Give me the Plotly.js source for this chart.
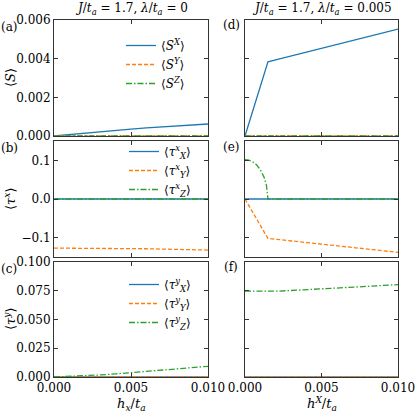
<!DOCTYPE html>
<html>
<head>
<meta charset="utf-8">
<script src="https://cdn.plot.ly/plotly-3.0.1.min.js"></script>
<style>html,body{margin:0;padding:0;background:#fff;}#chart{width:415px;height:415px;}</style>
</head>
<body>
<div id="chart"></div>
<script>
// ---- data ----
var h = [0, 0.0005, 0.001, 0.0015, 0.002, 0.003, 0.004, 0.005, 0.006, 0.007, 0.008, 0.009, 0.01];
var zeros = [0, 0, 0, 0, 0, 0, 0, 0, 0, 0, 0, 0, 0];

// left column (lambda = 0)
var a_SX = [0, 0.00004, 0.00008, 0.00012, 0.00016, 0.00023, 0.0003, 0.00036, 0.00042, 0.00047, 0.00052, 0.00057, 0.00062];
var a_SY = zeros;
var a_SZ = zeros;
var b_tXx = zeros;
var b_tYx = [-0.127, -0.127, -0.127, -0.127, -0.1272, -0.1275, -0.1278, -0.1282, -0.1287, -0.1295, -0.1302, -0.131, -0.132];
var b_tZx = zeros;
var c_tXy = zeros;
var c_tYy = zeros;
var c_tZy = [0, 0.0002, 0.0005, 0.0008, 0.0011, 0.0018, 0.0027, 0.0037, 0.0047, 0.0058, 0.0069, 0.0081, 0.0093];

// right column (lambda = 0.005)
var d_SX = [0, 0.00128, 0.00256, 0.00384, 0.00394, 0.00414, 0.00434, 0.00454, 0.00474, 0.00494, 0.00514, 0.00534, 0.00553];
var d_SY = zeros;
var d_SZ = zeros;
var e_tXx = zeros;
var e_tYx = [0, -0.034, -0.068, -0.102, -0.104, -0.108, -0.1125, -0.117, -0.121, -0.125, -0.129, -0.1335, -0.138];
var hZ = [0, 0.00025, 0.0005, 0.00075, 0.001, 0.00125, 0.0014, 0.00148, 0.0015, 0.002, 0.003, 0.004, 0.005, 0.006, 0.007, 0.008, 0.009, 0.01];
var e_tZx = [0.102, 0.1005, 0.096, 0.0885, 0.076, 0.056, 0.036, 0.012, 0, 0, 0, 0, 0, 0, 0, 0, 0, 0];
var f_tXy = zeros;
var f_tYy = zeros;
var f_tZy = [0.0748, 0.0747, 0.0746, 0.0745, 0.0746, 0.0752, 0.0758, 0.0765, 0.0772, 0.0781, 0.0788, 0.0796, 0.0803];

var xTicks = [0, 0.005, 0.01];
var xTickText = ['0.000', '0.005', '0.010'];

// ---- styling ----
var C1 = '#1f77b4', C2 = '#ff7f0e', C3 = '#2ca02c';
var FONT = 'DejaVu Serif';
var LW = 1.3;
var DASH = '4px,2px';
var DASHDOT = '6px,2px,1.5px,2px';

function tr(x, y, xa, ya, color, dash, name, legend, show) {
  return {x: x, y: y, xaxis: xa, yaxis: ya, type: 'scatter', mode: 'lines',
    line: {color: color, width: LW, dash: dash}, name: name,
    legend: legend, showlegend: show, hoverinfo: 'skip'};
}

var SX = '⟨<i>S</i><sup><i>X</i></sup>⟩';
var SY = '⟨<i>S</i><sup><i>Y</i></sup>⟩';
var SZ = '⟨<i>S</i><sup><i>Z</i></sup>⟩';
function tau(sup, sub) { return '⟨<i>τ</i><sup><i>' + sup + '</i></sup><sub><i>' + sub + '</i></sub>⟩'; }

var data = [
  tr(h, a_SX, 'x', 'y', C1, 'solid', SX, 'legend', true),
  tr(h, a_SY, 'x', 'y', C2, DASH, SY, 'legend', true),
  tr(h, a_SZ, 'x', 'y', C3, DASHDOT, SZ, 'legend', true),
  tr(h, b_tXx, 'x3', 'y3', C1, 'solid', tau('x', 'X'), 'legend2', true),
  tr(h, b_tYx, 'x3', 'y3', C2, DASH, tau('x', 'Y'), 'legend2', true),
  tr(h, b_tZx, 'x3', 'y3', C3, DASHDOT, tau('x', 'Z'), 'legend2', true),
  tr(h, c_tXy, 'x5', 'y5', C1, 'solid', tau('y', 'X'), 'legend3', true),
  tr(h, c_tYy, 'x5', 'y5', C2, DASH, tau('y', 'Y'), 'legend3', true),
  tr(h, c_tZy, 'x5', 'y5', C3, DASHDOT, tau('y', 'Z'), 'legend3', true),
  tr(h, d_SX, 'x2', 'y2', C1, 'solid', SX, 'legend', false),
  tr(h, d_SY, 'x2', 'y2', C2, DASH, SY, 'legend', false),
  tr(h, d_SZ, 'x2', 'y2', C3, DASHDOT, SZ, 'legend', false),
  tr(h, e_tXx, 'x4', 'y4', C1, 'solid', '', 'legend', false),
  tr(h, e_tYx, 'x4', 'y4', C2, DASH, '', 'legend', false),
  tr(hZ, e_tZx, 'x4', 'y4', C3, DASHDOT, '', 'legend', false),
  tr(h, f_tXy, 'x6', 'y6', C1, 'solid', '', 'legend', false),
  tr(h, f_tYy, 'x6', 'y6', C2, DASH, '', 'legend', false),
  tr(h, f_tZy, 'x6', 'y6', C3, DASHDOT, '', 'legend', false)
];

var W = 415, H = 415;
var colL = [54 / W, 208 / W], colR = [245 / W, 398 / W];
var row1 = [1 - 136 / H, 1 - 20 / H], row2 = [1 - 257 / H, 1 - 141 / H], row3 = [1 - 377 / H, 1 - 262 / H];
var TS = 12;

function xax(dom, anchor, labels) {
  return {domain: dom, anchor: anchor, range: [0, 0.01], tickvals: xTicks, ticktext: xTickText,
    showticklabels: labels, ticks: 'inside', ticklen: 4, tickcolor: '#333', mirror: 'ticks',
    ticklabeloverflow: 'allow',
    showline: true, linecolor: '#333', linewidth: 1, showgrid: false, zeroline: false,
    tickfont: {family: FONT, size: TS, color: '#000'}};
}
function yax(dom, anchor, range, tv, fmt, labels) {
  return {domain: dom, anchor: anchor, range: range, tickvals: tv, tickformat: fmt,
    showticklabels: labels, ticks: 'inside', ticklen: 4, tickcolor: '#333', mirror: 'ticks',
    ticklabeloverflow: 'allow',
    showline: true, linecolor: '#333', linewidth: 1, showgrid: false, zeroline: false,
    tickfont: {family: FONT, size: TS, color: '#000'}};
}

var yt1 = [0, 0.002, 0.004, 0.006], yt2 = [-0.1, 0, 0.1], yt3 = [0, 0.025, 0.05, 0.075, 0.1];

function ann(text, x, y, size, angle) {
  return {text: text, x: x / W, y: 1 - y / H, xref: 'paper', yref: 'paper', showarrow: false,
    xanchor: 'center', yanchor: 'middle', textangle: angle || 0,
    font: {family: FONT, size: size, color: '#000'}};
}

var legBase = {xanchor: 'left', yanchor: 'top', bgcolor: 'rgba(0,0,0,0)', borderwidth: 0,
  font: {family: FONT, size: 12, color: '#000'}, itemwidth: 30};

var layout = {
  width: W, height: H, margin: {l: 0, r: 0, t: 0, b: 0},
  paper_bgcolor: '#fff', plot_bgcolor: '#fff',
  font: {family: FONT, size: 12, color: '#000'},
  xaxis: xax(colL, 'y', false), yaxis: yax(row1, 'x', [0, 0.006], yt1, '.3f', true),
  xaxis2: xax(colR, 'y2', false), yaxis2: yax(row1, 'x2', [0, 0.006], yt1, '.3f', false),
  xaxis3: xax(colL, 'y3', false), yaxis3: yax(row2, 'x3', [-0.15, 0.15], yt2, '.1f', true),
  xaxis4: xax(colR, 'y4', false), yaxis4: yax(row2, 'x4', [-0.15, 0.15], yt2, '.1f', false),
  xaxis5: xax(colL, 'y5', true), yaxis5: yax(row3, 'x5', [0, 0.1], yt3, '.3f', true),
  xaxis6: xax(colR, 'y6', true), yaxis6: yax(row3, 'x6', [0, 0.1], yt3, '.3f', false),
  legend: Object.assign({}, legBase, {x: 121 / W, y: 1 - 31 / H}),
  legend2: Object.assign({}, legBase, {x: 124 / W, y: 1 - 137 / H}),
  legend3: Object.assign({}, legBase, {x: 124 / W, y: 1 - 270 / H}),
  annotations: [
    ann('<i>J</i>/<i>t<sub>a</sub></i> = 1.7, <i>λ</i>/<i>t<sub>a</sub></i> = 0', 131, 9, 12),
    ann('<i>J</i>/<i>t<sub>a</sub></i> = 1.7, <i>λ</i>/<i>t<sub>a</sub></i> = 0.005', 322, 9, 12),
    ann('(a)', 9, 27, 12), ann('(b)', 9, 148, 12), ann('(c)', 9, 269, 12),
    ann('(d)', 231, 25, 12), ann('(e)', 231, 147, 12), ann('(f)', 231, 267, 12),
    ann('⟨<i>S</i>⟩', 10, 78, 13, -90),
    ann('⟨<i>τ<sup>x</sup></i>⟩', 10, 199, 13, -90),
    ann('⟨<i>τ<sup>y</sup></i>⟩', 10, 319, 13, -90),
    ann('<i>h<sub>x</sub></i>/<i>t<sub>a</sub></i>', 131, 404, 13),
    ann('<i>h<sup>X</sup></i>/<i>t<sub>a</sub></i>', 322, 404, 13)
  ]
};

Plotly.newPlot('chart', data, layout, {staticPlot: true, displayModeBar: false});
</script>
</body>
</html>
